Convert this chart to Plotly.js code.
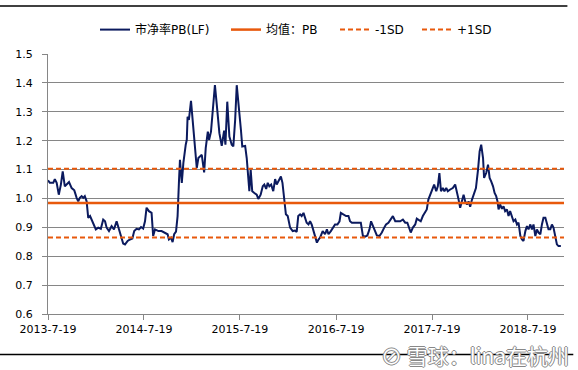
<!DOCTYPE html>
<html>
<head>
<meta charset="utf-8">
<script src="https://cdn.plot.ly/plotly-3.0.1.min.js"></script>
<style>
html,body{margin:0;padding:0;background:#fff;}
#chart{width:578px;height:370px;}
</style>
</head>
<body>
<div id="chart"></div>
<script>
// ---- data ----
const startDate = '2013-07-19';
// days after startDate for each observation
const dayOffsets = [
0,7,20,26,33,41,49,56,64,75,80,90,100,109,115,121,128,134,140,147,
153,160,166,176,182,191,201,210,217,223,232,242,251,261,270,278,286,293,303,312,
321,328,337,346,354,362,369,375,384,394,400,407,420,432,445,455,460,468,474,480,
487,493,498,502,509,515,524,528,531,536,544,553,559,566,572,578,585,594,600,608,
613,620,627,635,644,652,661,670,675,682,690,699,705,712,718,727,734,739,750,756,
762,766,771,777,785,794,800,809,817,823,830,836,842,849,857,864,870,876,886,892,
898,905,912,921,931,940,946,952,959,965,972,978,984,991,997,1003,1010,1016,1023,1029,
1035,1045,1054,1061,1067,1076,1083,1092,1101,1109,1114,1124,1134,1143,1149,1156,1168,1181,1190,1198,
1206,1215,1223,1229,1236,1241,1251,1261,1270,1279,1286,1295,1304,1312,1321,1329,1340,1350,1359,1367,
1375,1380,1388,1397,1403,1409,1418,1426,1435,1441,1447,1457,1464,1469,1477,1483,1489,1495,1502,1508,
1515,1521,1530,1540,1549,1556,1562,1568,1575,1581,1587,1594,1600,1606,1613,1619,1628,1636,1642,1648,
1655,1659,1667,1674,1680,1686,1693,1699,1705,1710,1714,1720,1727,1733,1739,1746,1752,1758,1765,1771,
1778,1784,1790,1797,1803,1809,1816,1822,1828,1835,1841,1847,1854,1860,1866,1873,1879,1885,1892,1898,
1904,1911,1917,1923,1930,1936,1942,1951
];
const pbLF = [
1.063,1.054,1.054,1.067,1.054,1.013,1.048,1.094,1.042,1.054,1.057,1.036,1.028,1.002,0.990,1.002,1.008,1.002,1.008,0.990,
0.933,0.939,0.927,0.910,0.893,0.899,0.895,0.927,0.921,0.899,0.887,0.904,0.893,0.921,0.893,0.868,0.844,0.841,0.853,0.858,
0.861,0.887,0.895,0.893,0.901,0.896,0.921,0.968,0.956,0.950,0.870,0.893,0.887,0.887,0.882,0.876,0.858,0.864,0.849,0.876,
0.885,0.939,1.054,1.134,1.054,1.123,1.186,1.203,1.283,1.272,1.338,1.249,1.186,1.105,1.140,1.145,1.151,1.090,1.174,1.231,
1.203,1.231,1.306,1.392,1.306,1.226,1.182,1.235,1.186,1.335,1.214,1.186,1.180,1.272,1.392,1.317,1.237,1.180,1.182,1.140,
1.082,1.025,1.100,1.025,1.019,1.013,0.998,1.013,1.042,1.048,1.033,1.054,1.042,1.048,1.025,1.067,1.048,1.059,1.076,1.054,
1.008,0.945,0.939,0.899,0.887,0.889,0.884,0.939,0.945,0.939,0.950,0.933,0.916,0.910,0.921,0.910,0.887,0.864,0.847,0.858,
0.864,0.887,0.876,0.893,0.876,0.887,0.899,0.910,0.910,0.921,0.950,0.945,0.939,0.939,0.921,0.916,0.916,0.916,0.916,0.870,
0.868,0.872,0.893,0.921,0.904,0.893,0.872,0.870,0.882,0.899,0.910,0.916,0.927,0.939,0.921,0.921,0.921,0.927,0.916,0.916,
0.899,0.882,0.899,0.910,0.930,0.927,0.921,0.939,0.956,0.962,0.996,1.019,1.036,1.048,1.025,1.042,1.088,1.025,1.036,1.025,
1.036,1.025,1.031,1.036,1.048,1.025,0.996,0.968,0.996,1.013,0.990,0.979,0.990,0.971,0.996,1.013,1.036,1.100,1.163,1.186,
1.140,1.071,1.088,1.117,1.071,1.059,1.042,1.019,1.008,0.990,0.962,0.979,0.964,0.973,0.956,0.962,0.939,0.956,0.933,0.921,
0.927,0.910,0.916,0.870,0.858,0.853,0.887,0.904,0.893,0.910,0.893,0.910,0.870,0.893,0.882,0.876,0.910,0.933,0.933,0.916,
0.893,0.893,0.910,0.899,0.870,0.841,0.835,0.835
];
const meanPB = 0.984;
const minus1SD = 0.865;
const plus1SD = 1.103;
const axisEnd = '2018-12-03';
const tickDates = ['2013-07-19','2014-07-19','2015-07-19','2016-07-19','2017-07-19','2018-07-19'];
const tickLabels = ['2013-7-19','2014-7-19','2015-7-19','2016-7-19','2017-7-19','2018-7-19'];
const seriesNames = ['市净率PB(LF)','均值：PB','-1SD','+1SD'];

// ---- build ----
const base = Date.UTC(2013,6,19);
const dates = dayOffsets.map(d => new Date(base + d*86400000).toISOString().slice(0,10));
const span = [startDate, axisEnd];

const NAVY = '#0b1a5e';
const ORANGE = '#e8590c';

const traces = [
  {x: dates, y: pbLF, name: seriesNames[0], type: 'scatter', mode: 'lines', legend: 'legend',
   line: {color: NAVY, width: 2}},
  {x: span, y: [meanPB, meanPB], name: seriesNames[1], type: 'scatter', mode: 'lines', legend: 'legend2',
   line: {color: ORANGE, width: 2.5}},
  {x: span, y: [minus1SD, minus1SD], name: seriesNames[2], type: 'scatter', mode: 'lines', legend: 'legend3',
   line: {color: ORANGE, width: 2, dash: '5px,3px'}},
  {x: span, y: [plus1SD, plus1SD], name: seriesNames[3], type: 'scatter', mode: 'lines', legend: 'legend4',
   line: {color: ORANGE, width: 2, dash: '5px,3px'}}
];

const FONT = '"DejaVu Sans", "Noto Sans CJK SC", sans-serif';
function leg(xc) {
  return {orientation: 'h', x: xc, xref: 'container', xanchor: 'left',
          y: 0.92, yref: 'container', yanchor: 'middle',
          font: {family: FONT, size: 12, color: '#000'}, itemwidth: 30,
          bgcolor: 'rgba(0,0,0,0)', borderwidth: 0};
}

const layout = {
  width: 578, height: 370,
  margin: {l: 48, r: 14, t: 54, b: 56},
  paper_bgcolor: '#fff', plot_bgcolor: '#fff',
  font: {family: FONT, size: 11, color: '#000'},
  showlegend: true,
  legend: leg(95/578),
  legend2: leg(226/578),
  legend3: leg(335/578),
  legend4: leg(417/578),
  xaxis: {type: 'date', range: span, tickvals: tickDates, ticktext: tickLabels,
          showgrid: false, zeroline: false, showline: true, linecolor: '#868686', linewidth: 1,
          ticks: 'outside', ticklen: 5, tickcolor: '#868686', tickangle: 0,
          tickfont: {family: FONT, size: 11, color: '#000'}, fixedrange: true},
  yaxis: {range: [0.6, 1.5], dtick: 0.1, tick0: 0.6, tickformat: '.1f',
          showgrid: true, gridcolor: '#868686', gridwidth: 1, zeroline: false,
          showline: true, linecolor: '#868686', linewidth: 1,
          ticks: 'outside', ticklen: 5, tickcolor: '#868686', ticklabelstandoff: 7,
          tickfont: {family: FONT, size: 11, color: '#000'}, fixedrange: true},
  shapes: [
    {type: 'line', xref: 'paper', yref: 'paper', x0: -0.0931, x1: 1.0066, y0: 1.185, y1: 1.185,
     line: {color: '#000', width: 1.5}},
    {type: 'line', xref: 'paper', yref: 'paper', x0: -0.0931, x1: 1.018, y0: -0.156, y1: -0.156,
     line: {color: '#000', width: 1.5}}
  ],
  annotations: [
    {xref: 'paper', yref: 'paper', x: 1.013, y: -0.157, xanchor: 'right', yanchor: 'middle',
     showarrow: false, text: '⊘ 雪球：lina在杭州',
     font: {family: '"Noto Sans CJK SC", sans-serif', size: 21, color: '#ffffff',
            shadow: '1px 0 0 #888, -1px 0 0 #888, 0 1px 0 #888, 0 -1px 0 #888'}}
  ]
};

Plotly.newPlot('chart', traces, layout, {displayModeBar: false, staticPlot: true});
</script>
</body>
</html>
